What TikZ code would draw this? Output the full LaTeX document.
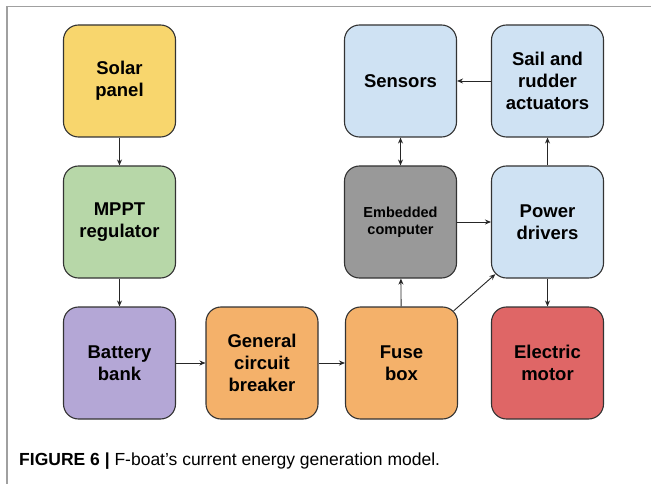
\documentclass[tikz,border=0pt]{standalone}
\usepackage{fontspec}
\setmainfont{Liberation Sans}
\usetikzlibrary{arrows.meta,calc}

\definecolor{cSolar}{HTML}{F8D66D}
\definecolor{cMppt}{HTML}{B7D7A8}
\definecolor{cBatt}{HTML}{B4A7D6}
\definecolor{cOrange}{HTML}{F4B16A}
\definecolor{cMotor}{HTML}{DF6666}
\definecolor{cComp}{HTML}{999999}
\definecolor{cBlue}{HTML}{CFE2F3}
\definecolor{cEdge}{HTML}{333333}
\definecolor{cFrame}{HTML}{A0A0A0}

\tikzset{
  blk/.style={draw=cEdge, line width=1.1pt, rounded corners=15pt,
    minimum width=112pt, minimum height=112pt, inner sep=0pt,
    align=center, font=\fontsize{18.5}{22}\selectfont\bfseries},
  smalltext/.style={font=\fontsize{14.5}{17}\selectfont\bfseries},
  link/.style={draw=black!85, line width=0.9pt, -{Stealth[length=6pt,width=5pt]}},
  dlink/.style={draw=black!85, line width=0.9pt, {Stealth[length=6pt,width=5pt]}-{Stealth[length=6pt,width=5pt]}},
}

\begin{document}
\begin{tikzpicture}[x=1pt,y=-1pt]
  \useasboundingbox (0,0) rectangle (651,484);
  % outer frame
  \draw[cFrame, line width=1.5pt] (7,484) -- (7,6.5) -- (651,6.5);

  % row 1
  \node[blk, fill=cSolar] (solar) at (119.5,81) {Solar\\panel};
  \node[blk, fill=cBlue] (sensors) at (400.5,81) {Sensors};
  \node[blk, fill=cBlue] (sail) at (547.5,81) {Sail and\\rudder\\actuators};
  % row 2
  \node[blk, fill=cMppt] (mppt) at (119.5,222) {MPPT\\regulator};
  \node[blk, fill=cComp, smalltext] (comp) at (400.5,222) {Embedded\\computer};
  \node[blk, fill=cBlue] (drivers) at (547.5,222) {Power\\drivers};
  % row 3
  \node[blk, fill=cBatt] (batt) at (119.5,363) {Battery\\bank};
  \node[blk, fill=cOrange] (breaker) at (262,363) {General\\circuit\\breaker};
  \node[blk, fill=cOrange] (fuse) at (401.5,363) {Fuse\\box};
  \node[blk, fill=cMotor] (motor) at (547.5,363) {Electric\\motor};

  % connectors
  \draw[link] (solar) -- (mppt);
  \draw[link] (mppt) -- (batt);
  \draw[link] (batt) -- (breaker);
  \draw[link] (breaker) -- (fuse);
  \draw[link] (fuse) -- (comp);
  \draw[link] (comp) -- (drivers);
  \draw[dlink] (comp) -- (sensors);
  \draw[link] (drivers) -- (sail);
  \draw[link] (sail) -- (sensors);
  \draw[link] (drivers) -- (motor);
  \draw[link] ([shift={(-4.4,4.4)}]fuse.north east) -- ([shift={(4.4,-4.4)}]drivers.south west);

  % caption
  \node[anchor=base west, inner sep=0pt, font=\fontsize{17.5}{20}\selectfont] (cap) at (19,465)
    {\textbf{FIGURE 6 |} F-boat’s current energy generation model.};
\end{tikzpicture}
\end{document}
